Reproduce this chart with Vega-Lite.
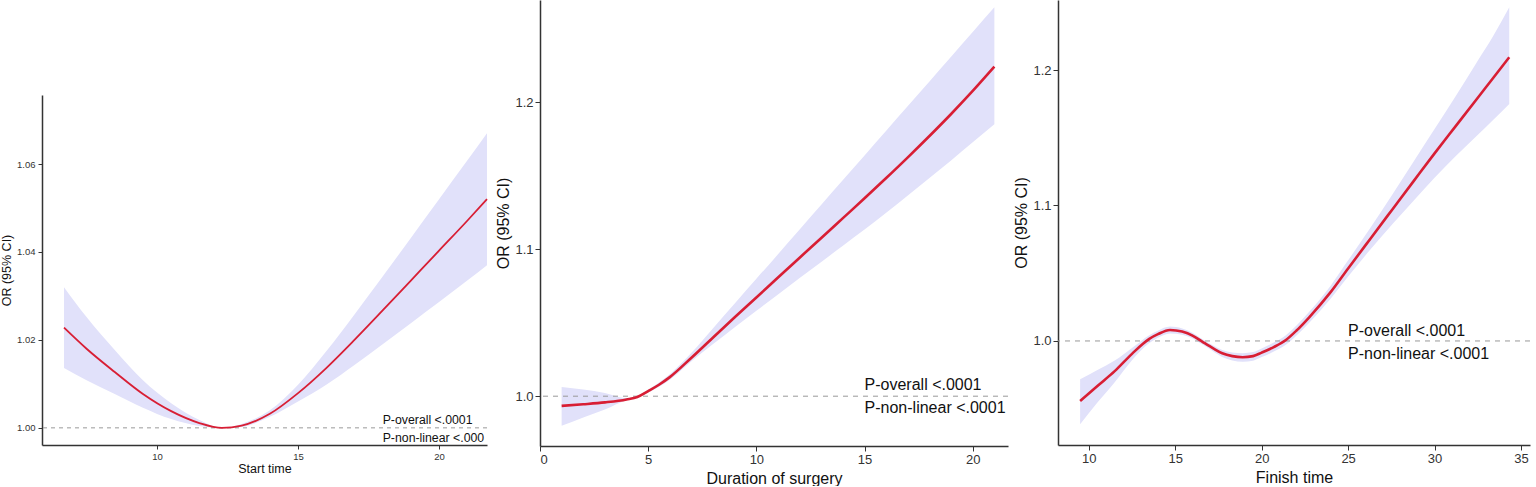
{
  "$schema": "https://vega.github.io/schema/vega-lite/v6.json",
  "padding": 0,
  "spacing": 4,
  "config": {
    "font": "Liberation Sans",
    "view": {"stroke": null},
    "axis": {"grid": false, "domainColor": "#333333", "tickColor": "#333333", "labelColor": "#333333", "titleColor": "#111111", "titleFontWeight": "normal", "domainWidth": 1.5, "tickWidth": 1}
  },
  "datasets": {
    "start": [
      {"x": 6.7, "or": 1.0228, "lo": 1.0136, "hi": 1.032},
      {"x": 7.5, "or": 1.018, "lo": 1.0108, "hi": 1.0252},
      {"x": 8.5, "or": 1.0127, "lo": 1.0077, "hi": 1.0177},
      {"x": 9.5, "or": 1.0077, "lo": 1.0046, "hi": 1.0108},
      {"x": 10.5, "or": 1.0038, "lo": 1.002, "hi": 1.0056},
      {"x": 11.5, "or": 1.0011, "lo": 1.0004, "hi": 1.0018},
      {"x": 12.3, "or": 1.0, "lo": 0.99995, "hi": 1.00005},
      {"x": 13.0, "or": 1.0005, "lo": 1.0002, "hi": 1.0009},
      {"x": 14.0, "or": 1.0032, "lo": 1.0025, "hi": 1.004},
      {"x": 15.0, "or": 1.0079, "lo": 1.006, "hi": 1.0098},
      {"x": 16.0, "or": 1.0136, "lo": 1.0098, "hi": 1.0174},
      {"x": 17.0, "or": 1.02, "lo": 1.0143, "hi": 1.0258},
      {"x": 18.0, "or": 1.0267, "lo": 1.019, "hi": 1.0344},
      {"x": 19.0, "or": 1.0335, "lo": 1.0238, "hi": 1.0432},
      {"x": 20.0, "or": 1.0403, "lo": 1.0286, "hi": 1.052},
      {"x": 21.0, "or": 1.0471, "lo": 1.0335, "hi": 1.0608},
      {"x": 21.7, "or": 1.052, "lo": 1.037, "hi": 1.067}
    ],
    "duration": [
      {"x": 1, "or": 0.9934, "lo": 0.9798, "hi": 1.0063},
      {"x": 2, "or": 0.9945, "lo": 0.9855, "hi": 1.0045},
      {"x": 3, "or": 0.9958, "lo": 0.991, "hi": 1.0022},
      {"x": 4, "or": 0.9978, "lo": 0.9973, "hi": 0.9987},
      {"x": 4.5, "or": 0.9995, "lo": 0.9989, "hi": 1.0001},
      {"x": 5, "or": 1.0035, "lo": 1.0025, "hi": 1.0045},
      {"x": 5.5, "or": 1.0078, "lo": 1.0064, "hi": 1.0094},
      {"x": 6, "or": 1.013, "lo": 1.0112, "hi": 1.015},
      {"x": 7, "or": 1.0262, "lo": 1.0238, "hi": 1.0295},
      {"x": 8, "or": 1.04, "lo": 1.0355, "hi": 1.0463},
      {"x": 9, "or": 1.0537, "lo": 1.047, "hi": 1.0631},
      {"x": 10, "or": 1.0672, "lo": 1.0582, "hi": 1.0799},
      {"x": 11, "or": 1.0808, "lo": 1.0693, "hi": 1.0967},
      {"x": 12, "or": 1.0943, "lo": 1.0804, "hi": 1.1135},
      {"x": 13, "or": 1.1077, "lo": 1.0914, "hi": 1.1303},
      {"x": 14, "or": 1.1212, "lo": 1.1024, "hi": 1.1471},
      {"x": 15, "or": 1.1347, "lo": 1.1134, "hi": 1.1639},
      {"x": 16, "or": 1.1485, "lo": 1.1248, "hi": 1.1807},
      {"x": 17, "or": 1.1626, "lo": 1.1366, "hi": 1.1975},
      {"x": 18, "or": 1.1771, "lo": 1.1485, "hi": 1.2143},
      {"x": 19, "or": 1.1921, "lo": 1.1605, "hi": 1.2311},
      {"x": 20, "or": 1.2078, "lo": 1.1728, "hi": 1.2479},
      {"x": 21, "or": 1.2243, "lo": 1.1852, "hi": 1.2647}
    ],
    "finish": [
      {"x": 9.5, "or": 0.9557, "lo": 0.9385, "hi": 0.9717},
      {"x": 10.5, "or": 0.9668, "lo": 0.9545, "hi": 0.9785},
      {"x": 11.5, "or": 0.9777, "lo": 0.9695, "hi": 0.9855},
      {"x": 12.5, "or": 0.9905, "lo": 0.9858, "hi": 0.9948},
      {"x": 13.5, "or": 1.0015, "lo": 0.9985, "hi": 1.0043},
      {"x": 14.0, "or": 1.005, "lo": 1.0024, "hi": 1.0076},
      {"x": 14.7, "or": 1.0081, "lo": 1.0056, "hi": 1.0106},
      {"x": 15.4, "or": 1.0069, "lo": 1.0046, "hi": 1.0092},
      {"x": 16.0, "or": 1.004, "lo": 1.0019, "hi": 1.0061},
      {"x": 16.56, "or": 0.9995, "lo": 0.9975, "hi": 1.0015},
      {"x": 17.2, "or": 0.9945, "lo": 0.9922, "hi": 0.9966},
      {"x": 17.72, "or": 0.9909, "lo": 0.9882, "hi": 0.9933},
      {"x": 18.3, "or": 0.9888, "lo": 0.9856, "hi": 0.9915},
      {"x": 18.9, "or": 0.988, "lo": 0.9846, "hi": 0.991},
      {"x": 19.5, "or": 0.9888, "lo": 0.9854, "hi": 0.9918},
      {"x": 20.0, "or": 0.9914, "lo": 0.9881, "hi": 0.9945},
      {"x": 20.7, "or": 0.9955, "lo": 0.9922, "hi": 0.9988},
      {"x": 21.4, "or": 1.0007, "lo": 0.9972, "hi": 1.0042},
      {"x": 22.0, "or": 1.0075, "lo": 1.0038, "hi": 1.0112},
      {"x": 22.75, "or": 1.0175, "lo": 1.0135, "hi": 1.0215},
      {"x": 24.0, "or": 1.0362, "lo": 1.0314, "hi": 1.041},
      {"x": 25.0, "or": 1.0535, "lo": 1.0475, "hi": 1.0595},
      {"x": 26.3, "or": 1.0757, "lo": 1.0677, "hi": 1.0837},
      {"x": 27.57, "or": 1.0973, "lo": 1.0863, "hi": 1.1083},
      {"x": 28.8, "or": 1.1182, "lo": 1.1037, "hi": 1.1327},
      {"x": 30.0, "or": 1.1385, "lo": 1.1205, "hi": 1.1565},
      {"x": 31.2, "or": 1.1582, "lo": 1.1362, "hi": 1.1802},
      {"x": 32.4, "or": 1.1779, "lo": 1.1509, "hi": 1.2049},
      {"x": 33.4, "or": 1.1943, "lo": 1.1633, "hi": 1.2253},
      {"x": 34.32, "or": 1.2094, "lo": 1.1749, "hi": 1.2463}
    ]
  },
  "hconcat": [
    {
      "spacing": 0,
      "vconcat": [
        {
          "width": 445,
          "height": 95,
          "data": {"values": []},
          "mark": {"type": "point"},
          "encoding": {}
        },
        {
          "width": 445,
          "height": 350,
          "data": {"name": "start"},
          "layer": [
            {
              "mark": {"type": "area", "color": "#E1E1FA", "interpolate": "monotone"},
              "encoding": {
                "x": {"field": "x", "type": "quantitative", "scale": {"domain": [5.92, 21.7], "nice": false, "zero": false},
                  "axis": {"title": "Start time", "values": [10, 15, 20], "labelFontSize": 9.5, "titleFontSize": 12.5, "tickSize": 4, "labelPadding": 2, "titlePadding": 2}},
                "y": {"field": "lo", "type": "quantitative", "scale": {"domain": [0.9961, 1.0757], "nice": false, "zero": false},
                  "axis": {"title": "OR (95% CI)", "values": [1.0, 1.02, 1.04, 1.06], "format": ".2f", "labelFontSize": 9.5, "titleFontSize": 12.5, "tickSize": 4, "labelPadding": 3, "titlePadding": 3}},
                "y2": {"field": "hi"}
              }
            },
            {
              "data": {"values": [{}]},
              "mark": {"type": "rule", "color": "#999999", "strokeDash": [4, 4], "strokeWidth": 1},
              "encoding": {"y": {"datum": 1.0}}
            },
            {
              "mark": {"type": "line", "color": "#D81E34", "strokeWidth": 1.8, "interpolate": "monotone"},
              "encoding": {
                "x": {"field": "x", "type": "quantitative"},
                "y": {"field": "or", "type": "quantitative"}
              }
            },
            {
              "data": {"values": [{}]},
              "mark": {"type": "text", "text": "P-overall <.0001", "align": "left", "baseline": "alphabetic", "dy": -4, "fontSize": 12.3, "color": "#111111"},
              "encoding": {"x": {"datum": 18}, "y": {"datum": 1.0}}
            },
            {
              "data": {"values": [{}]},
              "mark": {"type": "text", "text": "P-non-linear <.000", "align": "left", "baseline": "alphabetic", "dy": 14, "fontSize": 12.3, "color": "#111111"},
              "encoding": {"x": {"datum": 18}, "y": {"datum": 1.0}}
            }
          ]
        }
      ]
    },
    {
      "width": 468,
      "height": 446,
      "data": {"name": "duration"},
      "layer": [
        {
          "mark": {"type": "area", "color": "#E1E1FA", "interpolate": "monotone"},
          "encoding": {
            "x": {"field": "x", "type": "quantitative", "scale": {"domain": [0, 21.63], "nice": false, "zero": false},
              "axis": {"title": "Duration of surgery", "values": [0, 5, 10, 15, 20], "labelFontSize": 13, "titleFontSize": 16, "tickSize": 5, "labelPadding": 2, "titlePadding": 4}},
            "y": {"field": "lo", "type": "quantitative", "scale": {"domain": [0.9661, 1.2697], "nice": false, "zero": false},
              "axis": {"title": "OR (95% CI)", "values": [1.0, 1.1, 1.2], "format": ".1f", "labelFontSize": 13, "titleFontSize": 16, "tickSize": 5, "labelPadding": 2, "titlePadding": 3}},
            "y2": {"field": "hi"}
          }
        },
        {
          "data": {"values": [{}]},
          "mark": {"type": "rule", "color": "#999999", "strokeDash": [5, 5], "strokeWidth": 1},
          "encoding": {"y": {"datum": 1.0}}
        },
        {
          "mark": {"type": "line", "color": "#D81E34", "strokeWidth": 2.6, "interpolate": "monotone"},
          "encoding": {
            "x": {"field": "x", "type": "quantitative"},
            "y": {"field": "or", "type": "quantitative"}
          }
        },
        {
          "data": {"values": [{}]},
          "mark": {"type": "text", "text": "P-overall <.0001", "align": "left", "baseline": "alphabetic", "dy": -6, "fontSize": 16, "color": "#111111"},
          "encoding": {"x": {"datum": 15}, "y": {"datum": 1.0}}
        },
        {
          "data": {"values": [{}]},
          "mark": {"type": "text", "text": "P-non-linear <.0001", "align": "left", "baseline": "alphabetic", "dy": 17, "fontSize": 16, "color": "#111111"},
          "encoding": {"x": {"datum": 15}, "y": {"datum": 1.0}}
        }
      ]
    },
    {
      "width": 472,
      "height": 445,
      "data": {"name": "finish"},
      "layer": [
        {
          "mark": {"type": "area", "color": "#E1E1FA", "interpolate": "monotone"},
          "encoding": {
            "x": {"field": "x", "type": "quantitative", "scale": {"domain": [8.22, 35.52], "nice": false, "zero": false},
              "axis": {"title": "Finish time", "values": [10, 15, 20, 25, 30, 35], "labelFontSize": 13, "titleFontSize": 16, "tickSize": 5, "labelPadding": 2, "titlePadding": 4}},
            "y": {"field": "lo", "type": "quantitative", "scale": {"domain": [0.9232, 1.2517], "nice": false, "zero": false},
              "axis": {"title": "OR (95% CI)", "values": [1.0, 1.1, 1.2], "format": ".1f", "labelFontSize": 13, "titleFontSize": 16, "tickSize": 5, "labelPadding": 2, "titlePadding": 3}},
            "y2": {"field": "hi"}
          }
        },
        {
          "data": {"values": [{}]},
          "mark": {"type": "rule", "color": "#999999", "strokeDash": [5, 5], "strokeWidth": 1},
          "encoding": {"y": {"datum": 1.0}}
        },
        {
          "mark": {"type": "line", "color": "#D81E34", "strokeWidth": 2.6, "interpolate": "monotone"},
          "encoding": {
            "x": {"field": "x", "type": "quantitative"},
            "y": {"field": "or", "type": "quantitative"}
          }
        },
        {
          "data": {"values": [{}]},
          "mark": {"type": "text", "text": "P-overall <.0001", "align": "left", "baseline": "alphabetic", "dy": -5, "fontSize": 16, "color": "#111111"},
          "encoding": {"x": {"datum": 25}, "y": {"datum": 1.0}}
        },
        {
          "data": {"values": [{}]},
          "mark": {"type": "text", "text": "P-non-linear <.0001", "align": "left", "baseline": "alphabetic", "dy": 18, "fontSize": 16, "color": "#111111"},
          "encoding": {"x": {"datum": 25}, "y": {"datum": 1.0}}
        }
      ]
    }
  ]
}
